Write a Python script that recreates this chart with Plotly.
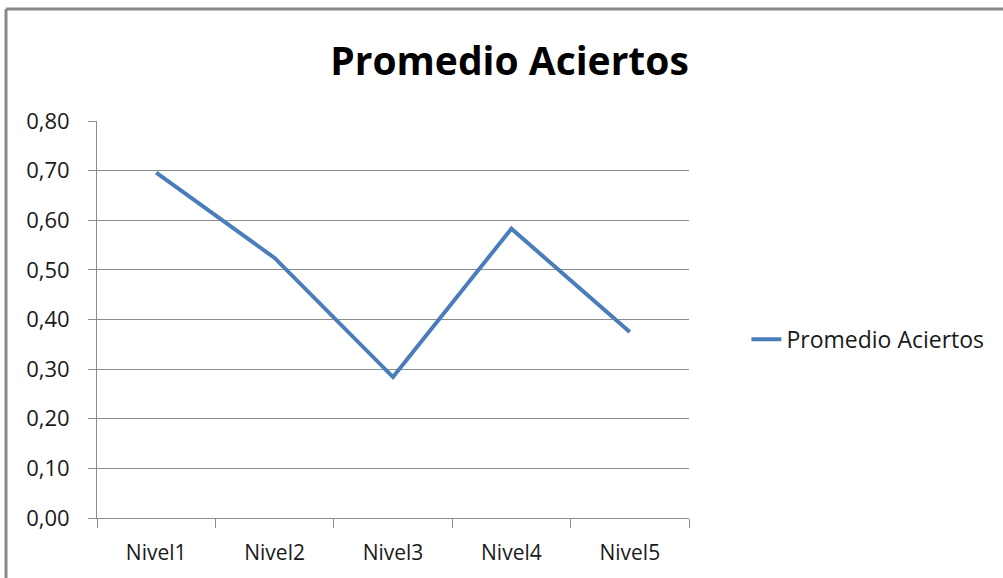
import plotly.graph_objects as go

categories = ["Nivel1", "Nivel2", "Nivel3", "Nivel4", "Nivel5"]
promedio_aciertos = [0.696, 0.524, 0.284, 0.583, 0.375]
series_name = "Promedio Aciertos"
y_ticks = [0.0, 0.1, 0.2, 0.3, 0.4, 0.5, 0.6, 0.7, 0.8]

FONT = "Open Sans"
GRID = "#8c8c8c"
TXT = "#1a1a1a"

fig = go.Figure()
fig.add_trace(go.Scatter(
    x=categories, y=promedio_aciertos, mode="lines", name=series_name,
    line=dict(color="#4a7ebb", width=4),
))

fig.update_layout(
    width=1003, height=578,
    margin=dict(l=97, r=314, t=121, b=60, autoexpand=False),
    paper_bgcolor="white", plot_bgcolor="white",
    separators=",.",
    font=dict(family=FONT, size=21, color=TXT),
    title=dict(text="<b>Promedio Aciertos</b>", x=0.508, xref="container",
               y=0.893, yref="container", xanchor="center", yanchor="middle",
               font=dict(family=FONT, size=39, color="black")),
    showlegend=True,
    legend=dict(x=1.097, y=0.45, xanchor="left", yanchor="middle",
                font=dict(family=FONT, size=23, color=TXT),
                bgcolor="rgba(0,0,0,0)"),
    xaxis=dict(type="category", range=[-0.5, 4.5], tickson="boundaries",
               ticks="outside", automargin=False,
               ticklen=9, tickcolor=GRID, tickwidth=1, showline=True,
               linecolor=GRID, linewidth=1, showgrid=False,
               ticklabelstandoff=16,
               tickfont=dict(family=FONT, size=21, color=TXT)),
    yaxis=dict(range=[0, 0.8], tickvals=y_ticks, tickformat=".2f",
               ticks="outside", ticklen=8, tickcolor=GRID, showline=True,
               linecolor=GRID, linewidth=1, showgrid=True, gridcolor=GRID,
               gridwidth=1, zeroline=False, automargin=False,
               ticklabelstandoff=14,
               tickfont=dict(family=FONT, size=22, color=TXT)),
    shapes=[
        dict(type="line", xref="paper", yref="paper", x0=-0.1537, x1=1.6, y0=1.2821, y1=1.2821,
             line=dict(color="#888888", width=3)),
        dict(type="line", xref="paper", yref="paper", x0=-0.1537, x1=-0.1537, y0=1.2821, y1=-0.3,
             line=dict(color="#888888", width=3)),
    ],
)

fig.write_html("out.html", config={"displayModeBar": False},
               post_script="document.body.style.margin='0';")
